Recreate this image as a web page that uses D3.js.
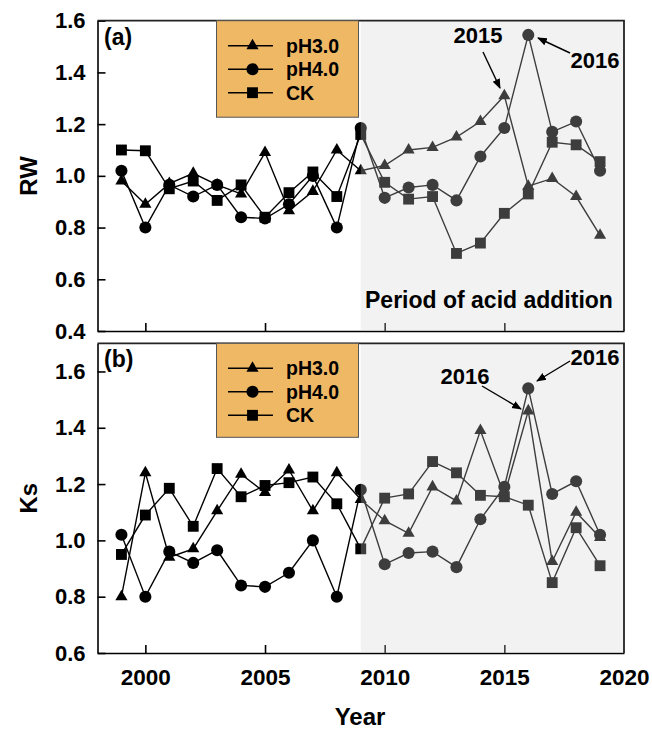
<!DOCTYPE html>
<html>
<head>
<meta charset="utf-8">
<script src="https://cdn.jsdelivr.net/npm/d3@7"></script>
<style>
body { margin: 0; background: #fff; }
text { font-family: "Liberation Sans", Arial, sans-serif; font-weight: bold; }
</style>
</head>
<body>
<script>

// data
var years = [1999, 2000, 2001, 2002, 2003, 2004, 2005, 2006, 2007, 2008, 2009,
             2010, 2011, 2012, 2013, 2014, 2015, 2016, 2017, 2018, 2019];

var rwPH30 = [0.98, 0.89, 0.97, 1.01, 0.965, 0.93, 1.09, 0.865, 0.94, 1.10, 1.02,
              1.04, 1.10, 1.11, 1.15, 1.21, 1.31, 0.96, 0.99, 0.92, 0.77];
var rwPH40 = [1.02, 0.80, 0.965, 0.92, 0.965, 0.84, 0.835, 0.89, 1.00, 0.80, 1.185,
              0.915, 0.955, 0.965, 0.905, 1.075, 1.185, 1.545, 1.17, 1.21, 1.02];
var rwCK   = [1.10, 1.097, 0.95, 0.98, 0.905, 0.965, 0.84, 0.935, 1.015, 0.92, 1.16,
              0.975, 0.91, 0.92, 0.70, 0.74, 0.855, 0.93, 1.13, 1.12, 1.055];

var ksPH30 = [0.80, 1.24, 0.94, 0.97, 1.105, 1.235, 1.17, 1.25, 1.105, 1.24, 1.145,
              1.07, 1.025, 1.19, 1.14, 1.39, 1.16, 1.46, 0.925, 1.10, 1.01];
var ksPH40 = [1.02, 0.80, 0.96, 0.92, 0.965, 0.84, 0.835, 0.885, 1.00, 0.80, 1.18,
              0.915, 0.955, 0.96, 0.905, 1.075, 1.19, 1.54, 1.165, 1.21, 1.02];
var ksCK   = [0.95, 1.09, 1.185, 1.05, 1.255, 1.155, 1.195, 1.205, 1.225, 1.13, 0.97,
              1.15, 1.165, 1.28, 1.24, 1.16, 1.155, 1.125, 0.85, 1.045, 0.91];

var seriesNames = ["pH3.0", "pH4.0", "CK"];
var rwTicks = [0.4, 0.6, 0.8, 1.0, 1.2, 1.4, 1.6];
var ksTicks = [0.6, 0.8, 1.0, 1.2, 1.4, 1.6];
var xTicks = [2000, 2005, 2010, 2015, 2020];
var acidStart = 2009;

var svg = d3.select("body").append("svg")
    .attr("width", 652)
    .attr("height", 729);

var defs = svg.append("defs");
defs.append("marker")
    .attr("id", "arrow")
    .attr("viewBox", "0 0 10 10")
    .attr("refX", 9).attr("refY", 5)
    .attr("markerWidth", 7).attr("markerHeight", 7)
    .attr("orient", "auto")
    .append("path")
    .attr("d", "M0,1 L10,5 L0,9 Z")
    .attr("fill", "#000");

var x = d3.scaleLinear().domain([1998, 2020]).range([97.5, 624]);

var symbols = {
    "pH3.0": d3.symbol().type(d3.symbolTriangle).size(64),
    "pH4.0": d3.symbol().type(d3.symbolCircle).size(115),
    "CK": d3.symbol().type(d3.symbolSquare).size(118)
};

function drawPanel(p) {
    var g = svg.append("g");
    var y = d3.scaleLinear().domain(p.yDomain).range([p.bottom, p.top]);
    var left = x.range()[0], right = x.range()[1];

    // left and bottom axes
    g.append("g")
        .attr("transform", "translate(" + left + ",0)")
        .call(d3.axisLeft(y).tickValues(p.yTicks).tickFormat(d3.format(".1f"))
            .tickSizeInner(-8).tickSizeOuter(0).tickPadding(12))
        .call(function(a) {
            a.selectAll("text").attr("font-size", 22).attr("fill", "#000");
            a.selectAll("line, path").attr("stroke", "#000").attr("stroke-width", 1.6);
        });
    var xa = g.append("g")
        .attr("transform", "translate(0," + p.bottom + ")")
        .call(d3.axisBottom(x).tickValues(xTicks).tickFormat(d3.format("d"))
            .tickSizeInner(-8).tickSizeOuter(0).tickPadding(16))
        .call(function(a) {
            a.selectAll("line, path").attr("stroke", "#000").attr("stroke-width", 1.6);
            a.selectAll("text").attr("font-size", 22.5).attr("fill", "#000");
        });
    if (!p.showXLabels) xa.selectAll("text").remove();
    xa.selectAll(".tick").filter(function(d) { return d === 2020; }).select("line").remove();

    // series
    var order = [["pH3.0", p.data[0]], ["CK", p.data[2]], ["pH4.0", p.data[1]]];
    order.forEach(function(s) {
        var pts = years.map(function(yr, i) { return [yr, s[1][i]]; });
        g.append("path")
            .datum(pts)
            .attr("fill", "none")
            .attr("stroke", "#000")
            .attr("stroke-width", 1.4)
            .attr("d", d3.line().x(function(d) { return x(d[0]); }).y(function(d) { return y(d[1]); }));
        g.selectAll(null)
            .data(pts)
            .enter()
            .append("path")
            .attr("transform", function(d) { return "translate(" + x(d[0]) + "," + y(d[1]) + ")"; })
            .attr("d", symbols[s[0]])
            .attr("fill", "#000");
    });

    // acid addition period shading
    g.append("rect")
        .attr("x", x(acidStart))
        .attr("y", p.top)
        .attr("width", right - x(acidStart))
        .attr("height", p.bottom - p.top)
        .attr("fill", "#d2d2d2")
        .attr("fill-opacity", 0.29);

    // top and right border
    g.append("path")
        .attr("d", "M" + left + "," + p.top + "H" + right + "V" + p.bottom)
        .attr("fill", "none")
        .attr("stroke", "#222")
        .attr("stroke-width", 1.8);

    // legend
    var lg = g.append("g");
    lg.append("rect")
        .attr("x", 216.5).attr("y", p.top)
        .attr("width", 142).attr("height", p.legendH)
        .attr("fill", "#efb865")
        .attr("stroke", "#555").attr("stroke-width", 1);
    seriesNames.forEach(function(n, i) {
        var ly = p.top + 25 + i * 23.5;
        lg.append("line")
            .attr("x1", 228).attr("x2", 273).attr("y1", ly).attr("y2", ly)
            .attr("stroke", "#000").attr("stroke-width", 1.4);
        lg.append("path")
            .attr("transform", "translate(252.5," + ly + ")")
            .attr("d", symbols[n])
            .attr("fill", "#000");
        lg.append("text")
            .attr("x", 286).attr("y", ly + 7)
            .attr("font-size", 19.5)
            .text(n);
    });

    // panel letter
    g.append("text")
        .attr("x", 104).attr("y", p.letterY)
        .attr("font-size", 23)
        .text(p.letter);

    // y label
    g.append("text")
        .attr("transform", "translate(37," + ((p.top + p.bottom) / 2) + ") rotate(-90)")
        .attr("text-anchor", "middle")
        .attr("font-size", 24)
        .text(p.yLabel);

    // annotations
    p.notes.forEach(function(n) {
        g.append("text")
            .attr("x", n.tx).attr("y", n.ty)
            .attr("text-anchor", "middle")
            .attr("font-size", 22)
            .text(n.text);
        g.append("line")
            .attr("x1", n.x1).attr("y1", n.y1)
            .attr("x2", n.x2).attr("y2", n.y2)
            .attr("stroke", "#000").attr("stroke-width", 1.4)
            .attr("marker-end", "url(#arrow)");
    });

    return g;
}

var ga = drawPanel({
    top: 20.7, bottom: 331, yDomain: [0.4, 1.6], yTicks: rwTicks,
    data: [rwPH30, rwPH40, rwCK], letter: "(a)", letterY: 45, yLabel: "RW",
    legendH: 96.5, showXLabels: false,
    notes: [
        {text: "2015", tx: 478, ty: 43, x1: 483, y1: 52, x2: 500, y2: 88},
        {text: "2016", tx: 595, ty: 68, x1: 570, y1: 53, x2: 538, y2: 38}
    ]
});
ga.append("text")
    .attr("x", 365).attr("y", 308)
    .attr("font-size", 23)
    .text("Period of acid addition");

drawPanel({
    top: 343.3, bottom: 653, yDomain: [0.6, 1.7], yTicks: ksTicks,
    data: [ksPH30, ksPH40, ksCK], letter: "(b)", letterY: 367, yLabel: "Ks",
    legendH: 94, showXLabels: true,
    notes: [
        {text: "2016", tx: 595, ty: 365, x1: 570, y1: 361, x2: 537, y2: 381},
        {text: "2016", tx: 465, ty: 384, x1: 482, y1: 386, x2: 521, y2: 409}
    ]
});

svg.append("text")
    .attr("x", 360).attr("y", 725)
    .attr("text-anchor", "middle")
    .attr("font-size", 24)
    .text("Year");

</script>
</body>
</html>
